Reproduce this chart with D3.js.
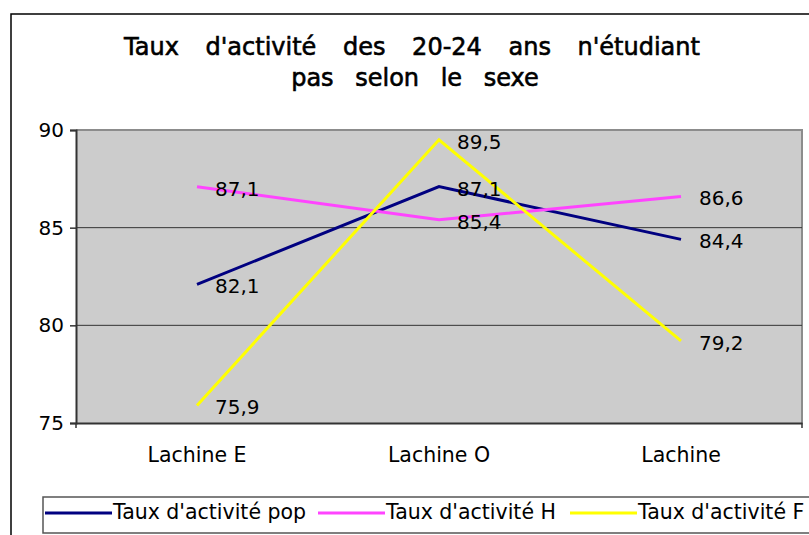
<!DOCTYPE html>
<html lang="fr">
<head>
    <meta charset="UTF-8">
    <title>Taux d'activité des 20-24 ans</title>
    <script src="https://d3js.org/d3.v7.min.js"></script>
    <style>
        body { margin: 0; background: #fff; }
        svg { display: block; }
        .num { font-family: "DejaVu Sans", Verdana, sans-serif; fill: #000; }
    </style>
</head>
<body>
<div id="container"></div>
<script>
    // data
    const categories = ['Lachine E', 'Lachine O', 'Lachine'];
    const seriesNames = ["Taux d'activité pop", "Taux d'activité H", "Taux d'activité F"];
    const popValues = [82.1, 87.1, 84.4];
    const hValues = [87.1, 85.4, 86.6];
    const fValues = [75.9, 89.5, 79.2];
    const yTicks = [75, 80, 85, 90];
    const colors = ['#000080', '#ff44ff', '#ffff00'];

    const series = [
        { name: seriesNames[0], values: popValues, color: colors[0] },
        { name: seriesNames[1], values: hValues, color: colors[1] },
        { name: seriesNames[2], values: fValues, color: colors[2] }
    ];

    const W = 809, H = 535;
    const plot = { left: 76, right: 802, top: 130, bottom: 423 };

    const svg = d3.select('#container').append('svg')
        .attr('width', W).attr('height', H);

    // outer frame (cut off on the right and bottom)
    svg.append('rect')
        .attr('x', 11).attr('y', 14)
        .attr('width', 820).attr('height', 540)
        .attr('fill', '#fff').attr('stroke', '#000').attr('stroke-width', 1.5);

    // title
    const title = svg.append('text')
        .attr('class', 'num')
        .attr('text-anchor', 'middle')
        .attr('stroke', '#000').attr('stroke-width', 0.6)
        .style('font-size', '24px');
    title.append('tspan').attr('x', 412).attr('y', 55)
        .style('word-spacing', '19px')
        .text("Taux d'activité des 20-24 ans n'étudiant");
    title.append('tspan').attr('x', 415).attr('y', 86)
        .style('word-spacing', '14px')
        .text('pas selon le sexe');

    // scales
    const x = d3.scaleBand()
        .domain(categories)
        .range([plot.left, plot.right]);

    const y = d3.scaleLinear()
        .domain([75, 90])
        .range([plot.bottom, plot.top]);

    // plot area
    svg.append('rect')
        .attr('x', plot.left).attr('y', plot.top)
        .attr('width', plot.right - plot.left).attr('height', plot.bottom - plot.top)
        .attr('fill', '#cccccc');

    // gray border top/right
    svg.append('path')
        .attr('d', `M${plot.left},${plot.top}H${plot.right}V${plot.bottom}`)
        .attr('fill', 'none').attr('stroke', '#8c8c8c').attr('stroke-width', 2);

    // gridlines
    svg.selectAll('.grid')
        .data(yTicks.filter(d => d > 75 && d < 90))
        .enter()
        .append('line')
        .attr('x1', plot.left).attr('x2', plot.right)
        .attr('y1', d => y(d)).attr('y2', d => y(d))
        .attr('stroke', '#333').attr('stroke-width', 1);

    // y axis
    const yAxis = svg.append('g')
        .attr('transform', `translate(${plot.left},0)`)
        .call(d3.axisLeft(y).tickValues(yTicks).tickSize(6).tickPadding(6).tickFormat(d3.format('d')));
    yAxis.select('.domain').attr('stroke', '#333').attr('stroke-width', 2);
    yAxis.selectAll('.tick line').attr('stroke', '#333').attr('stroke-width', 1.5);
    yAxis.selectAll('text').attr('class', 'num').attr('font-size', null).attr('font-family', null)
        .style('font-size', '20px');

    // x axis
    const xAxis = svg.append('g')
        .attr('transform', `translate(0,${plot.bottom})`)
        .call(d3.axisBottom(x).tickSize(0).tickPadding(24));
    xAxis.select('.domain').attr('stroke', '#333').attr('stroke-width', 2);
    xAxis.selectAll('text').attr('class', 'num').attr('font-size', null).attr('font-family', null)
        .style('font-size', '20.5px');
    // x ticks at the plot edges
    svg.selectAll('.xtick')
        .data([plot.left, plot.right])
        .enter()
        .append('line')
        .attr('x1', d => d).attr('x2', d => d)
        .attr('y1', plot.bottom).attr('y2', plot.bottom + 5)
        .attr('stroke', '#333').attr('stroke-width', 1.5);

    const cx = d => x(d) + x.bandwidth() / 2;

    const line = d3.line()
        .x((d, i) => cx(categories[i]))
        .y(d => y(d));

    // lines
    svg.selectAll('.series')
        .data(series)
        .enter()
        .append('path')
        .attr('d', d => line(d.values))
        .attr('fill', 'none')
        .attr('stroke', d => d.color)
        .attr('stroke-width', 3);

    // value labels
    series.forEach(s => {
        svg.selectAll(null)
            .data(s.values)
            .enter()
            .append('text')
            .attr('class', 'num')
            .style('font-size', '20px')
            .attr('x', (d, i) => cx(categories[i]) + 18)
            .attr('y', d => y(d) + 9)
            .text(d => d3.format('.1f')(d).replace('.', ','));
    });

    // legend
    svg.append('rect')
        .attr('x', 43).attr('y', 497)
        .attr('width', 800).attr('height', 36)
        .attr('fill', '#fff').attr('stroke', '#555').attr('stroke-width', 1.5);

    const legendX = [45, 318, 570];
    series.forEach((s, i) => {
        svg.append('line')
            .attr('x1', legendX[i]).attr('x2', legendX[i] + 67)
            .attr('y1', 513).attr('y2', 513)
            .attr('stroke', s.color).attr('stroke-width', 3);
        svg.append('text')
            .attr('class', 'num')
            .attr('x', legendX[i] + 68).attr('y', 519)
            .style('font-size', '20.5px')
            .text(s.name);
    });
</script>
</body>
</html>
